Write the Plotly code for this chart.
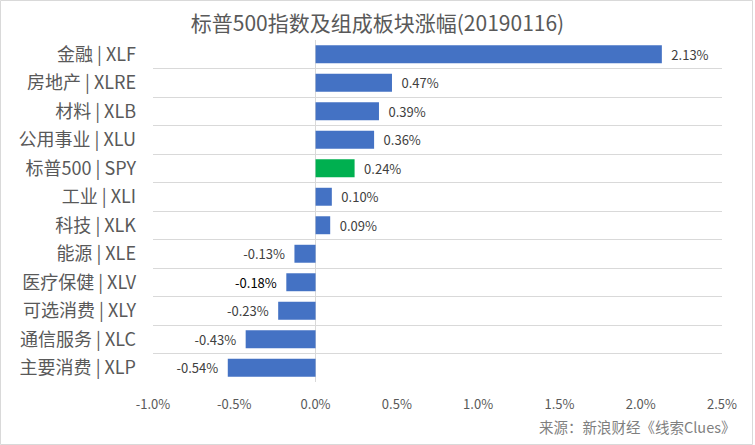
import plotly.graph_objects as go

categories = ["金融 | XLF", "房地产 | XLRE", "材料 | XLB", "公用事业 | XLU", "标普500 | SPY",
              "工业 | XLI", "科技 | XLK", "能源 | XLE", "医疗保健 | XLV", "可选消费 | XLY",
              "通信服务 | XLC", "主要消费 | XLP"]
values = [2.13, 0.47, 0.39, 0.36, 0.24, 0.10, 0.09, -0.13, -0.18, -0.23, -0.43, -0.54]
labels = ["2.13%", "0.47%", "0.39%", "0.36%", "0.24%", "0.10%", "0.09%",
          "-0.13%", "-0.18%", "-0.23%", "-0.43%", "-0.54%"]
tick_vals = [-1.0, -0.5, 0.0, 0.5, 1.0, 1.5, 2.0, 2.5]
tick_text = ["-1.0%", "-0.5%", "0.0%", "0.5%", "1.0%", "1.5%", "2.0%", "2.5%"]

colors = ["#00B050" if c.startswith("标普500") else "#4472C4" for c in categories]
text_colors = ["#000000" if c.startswith("医疗保健") else "#404040" for c in categories]
templates = ["\u2002%{text}" if v >= 0 else "%{text}\u2002" for v in values]

font = "Noto Sans CJK SC, Noto Sans, sans-serif"

fig = go.Figure(go.Bar(
    y=categories, x=values, orientation="h",
    marker=dict(color=colors, line=dict(width=0)),
    text=labels, texttemplate=templates, textposition="outside", cliponaxis=False,
    constraintext="none",
    textfont=dict(family=font, size=13, color=text_colors),
    hoverinfo="skip",
))

W, H = 755, 445
ml, mr, mt, mb = 153, 33, 40, 63

fig.update_layout(
    width=W, height=H,
    margin=dict(l=ml, r=mr, t=mt, b=mb, autoexpand=False),
    paper_bgcolor="white", plot_bgcolor="white",
    bargap=0.37,
    showlegend=False,
    title=dict(text="标普500指数及组成板块涨幅(20190116)", x=0.5, xanchor="center",
               y=1 - 24 / H, yanchor="middle",
               font=dict(family=font, size=21, color="#595959")),
    xaxis=dict(range=[-1.0, 2.5], tickvals=tick_vals, ticktext=tick_text,
               showgrid=False, zeroline=True, zerolinecolor="#D9D9D9", zerolinewidth=1,
               showline=False, ticks="", ticklabelstandoff=13,
               tickfont=dict(family=font, size=13, color="#595959")),
    yaxis=dict(autorange="reversed", tickson="boundaries", showgrid=True,
               gridcolor="#D9D9D9", gridwidth=1, ticks="", showline=False,
               zeroline=False, ticklabelstandoff=16,
               tickfont=dict(family=font, size=18, color="#595959")),
    annotations=[dict(text="来源：新浪财经《线索Clues》", xref="paper", yref="paper",
                      x=1 + 16 / (W - ml - mr), y=-(426 - (H - mb)) / (H - mt - mb),
                      xanchor="right", yanchor="middle", showarrow=False,
                      font=dict(family=font, size=14.5, color="#7F7F7F"))],
)

pw = W - ml - mr
ph = H - mt - mb
fig.add_shape(type="rect", xref="paper", yref="paper",
              x0=-(ml - 0.5) / pw, x1=1 + (mr - 2.5) / pw,
              y0=-(mb - 0.5) / ph, y1=1 + (mt - 0.5) / ph,
              line=dict(color="#D9D9D9", width=1), fillcolor="rgba(0,0,0,0)", layer="below")

fig.write_html("out.html", config={"displayModeBar": False},
               post_script="document.body.style.margin='0px';")
